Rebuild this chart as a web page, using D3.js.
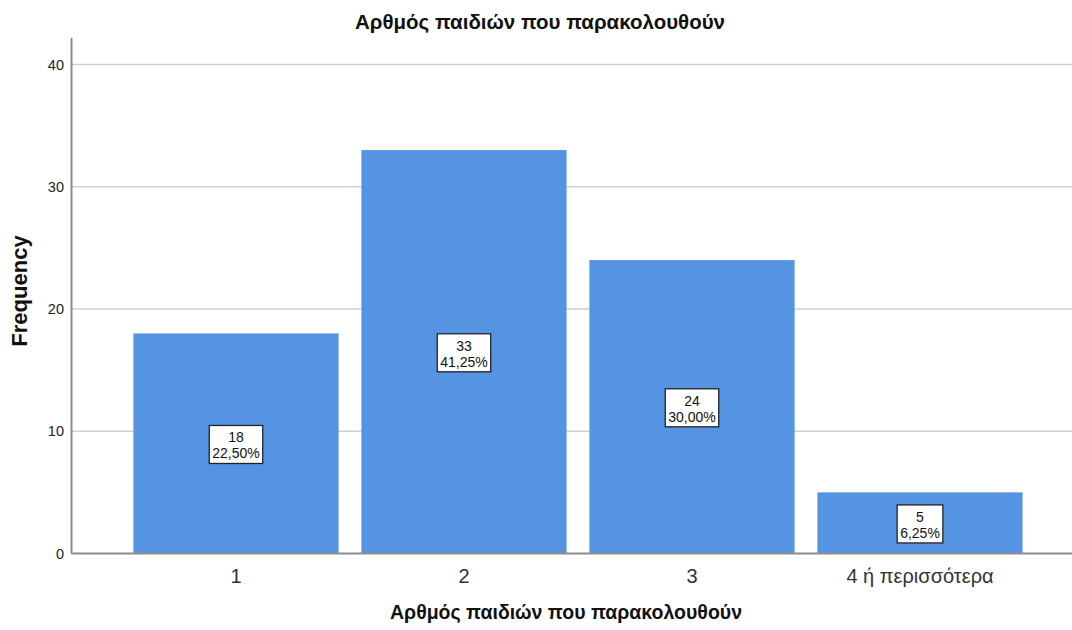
<!DOCTYPE html>
<html>
<head>
<meta charset="utf-8">
<script src="https://cdn.jsdelivr.net/npm/d3@7"></script>
<style>
  body { margin: 0; background: #fff; }
  svg { display: block; font-family: Arial, "Liberation Sans", sans-serif; }
</style>
</head>
<body>
<div id="chart"></div>
<script>
// data
const categories = ["1", "2", "3", "4 ή περισσότερα"];
const counts = [18, 33, 24, 5];
const percents = ["22,50%", "41,25%", "30,00%", "6,25%"];
const yTicks = [0, 10, 20, 30, 40];
const title = "Αρθμός παιδιών που παρακολουθούν";

const W = 1072, H = 630;

const svg = d3.select("#chart").append("svg")
  .attr("width", W).attr("height", H);

const x = d3.scaleBand()
  .domain(categories)
  .range([122, 1034])
  .paddingInner(0.1)
  .paddingOuter(0.05);

const y = d3.scaleLinear()
  .domain([0, 40])
  .range([553.5, 64.5]);

const left = 71.5;

// gridlines
svg.append("g").selectAll("line").data(yTicks.filter(d => d > 0)).join("line")
  .attr("x1", left).attr("x2", W)
  .attr("y1", d => y(d)).attr("y2", d => y(d))
  .attr("stroke", "#cfcfcf").attr("stroke-width", 1.5);

// bars
const bars = svg.append("g").selectAll("g").data(categories).join("g");
bars.append("rect")
  .attr("x", d => x(d))
  .attr("width", x.bandwidth())
  .attr("y", (d, i) => y(counts[i]))
  .attr("height", (d, i) => y(0) - y(counts[i]))
  .attr("fill", "#5594e3");

// axes lines
svg.append("line")
  .attr("x1", left).attr("x2", left)
  .attr("y1", 38).attr("y2", y(0))
  .attr("stroke", "#8c8c8c").attr("stroke-width", 2);
svg.append("line")
  .attr("x1", left).attr("x2", W)
  .attr("y1", y(0)).attr("y2", y(0))
  .attr("stroke", "#8c8c8c").attr("stroke-width", 2);

// y tick labels
svg.append("g").selectAll("text").data(yTicks).join("text")
  .attr("x", 64).attr("y", d => y(d))
  .attr("dy", "0.36em")
  .attr("text-anchor", "end")
  .attr("font-size", 14.5)
  .attr("fill", "#222")
  .text(d => d);

// x tick labels
svg.append("g").selectAll("text").data(categories).join("text")
  .attr("x", d => x(d) + x.bandwidth() / 2)
  .attr("y", 583)
  .attr("text-anchor", "middle")
  .attr("font-size", 20)
  .attr("fill", "#333")
  .text(d => d);

// value labels in boxes
bars.each(function (d, i) {
  const g = d3.select(this);
  const cx = x(d) + x.bandwidth() / 2;
  const mid = (y(counts[i]) + y(0)) / 2;
  const lbl = g.append("g");
  const t = lbl.append("text")
    .attr("text-anchor", "middle")
    .attr("font-size", 14)
    .attr("fill", "#111");
  t.append("tspan").attr("x", cx).attr("y", mid - 1).text(counts[i]);
  t.append("tspan").attr("x", cx).attr("y", mid + 15).text(percents[i]);
  const bb = t.node().getBBox();
  lbl.insert("rect", "text")
    .attr("x", bb.x - 3).attr("y", mid - 18)
    .attr("width", bb.width + 6).attr("height", 38)
    .attr("fill", "#fff")
    .attr("stroke", "#222").attr("stroke-width", 1.3);
});

// titles
svg.append("text")
  .attr("x", 540).attr("y", 29)
  .attr("text-anchor", "middle")
  .attr("font-size", 20.5).attr("font-weight", "bold")
  .attr("fill", "#111")
  .text(title);

svg.append("text")
  .attr("x", 566).attr("y", 619)
  .attr("text-anchor", "middle")
  .attr("font-size", 19.5).attr("font-weight", "bold")
  .attr("fill", "#111")
  .text(title);

svg.append("text")
  .attr("transform", "translate(27,291) rotate(-90)")
  .attr("text-anchor", "middle")
  .attr("font-size", 22).attr("font-weight", "bold")
  .attr("fill", "#111")
  .text("Frequency");
</script>
</body>
</html>
